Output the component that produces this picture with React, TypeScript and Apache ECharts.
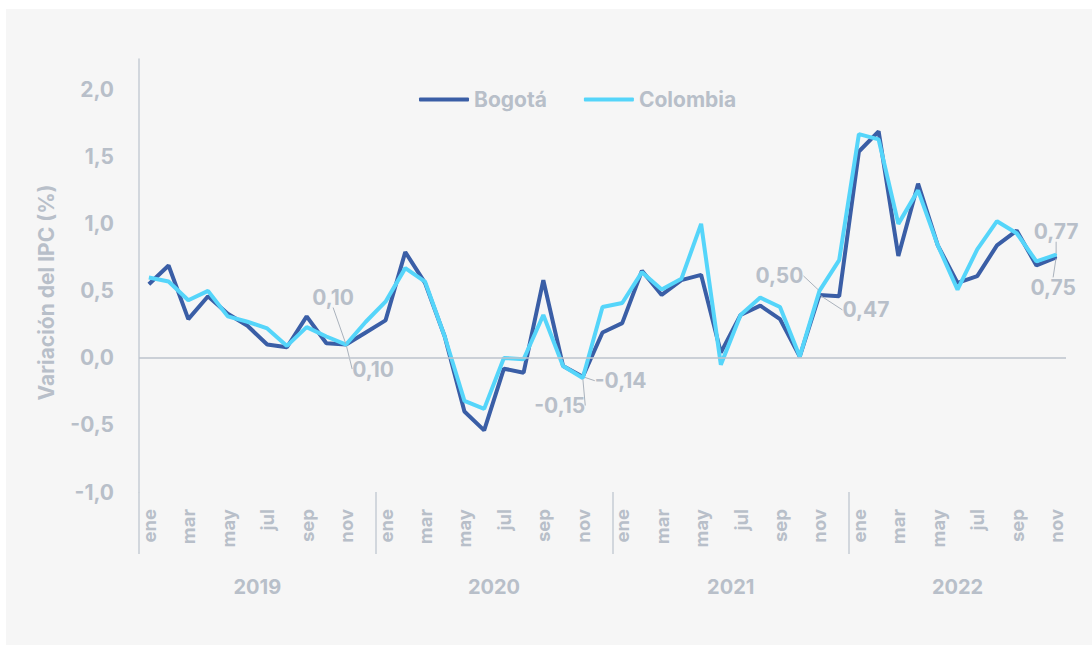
import React, { useEffect, useRef } from "react";
import * as echarts from "echarts";

const months = ["ene", "feb", "mar", "abr", "may", "jun", "jul", "ago", "sep", "oct", "nov", "dic"];
const years = ["2019", "2020", "2021", "2022"];
const categories: string[] = [];
years.forEach((y, yi) => {
  months.forEach((m, mi) => {
    if (yi === 3 && mi === 11) return;
    categories.push(m);
  });
});

const bogota = [
  0.55, 0.69, 0.29, 0.46, 0.33, 0.24, 0.1, 0.08, 0.31, 0.11, 0.1, 0.19,
  0.28, 0.79, 0.56, 0.16, -0.4, -0.54, -0.08, -0.11, 0.58, -0.06, -0.14, 0.19,
  0.26, 0.65, 0.47, 0.58, 0.62, 0.04, 0.32, 0.39, 0.29, 0.01, 0.47, 0.46,
  1.54, 1.69, 0.76, 1.3, 0.84, 0.56, 0.61, 0.84, 0.95, 0.69, 0.75,
];
const colombia = [
  0.6, 0.57, 0.43, 0.5, 0.31, 0.27, 0.22, 0.09, 0.23, 0.16, 0.1, 0.27,
  0.42, 0.67, 0.57, 0.16, -0.32, -0.38, 0.0, -0.01, 0.32, -0.06, -0.15, 0.38,
  0.41, 0.64, 0.51, 0.59, 1.0, -0.05, 0.32, 0.45, 0.38, 0.01, 0.5, 0.73,
  1.67, 1.63, 1.0, 1.25, 0.84, 0.51, 0.81, 1.02, 0.93, 0.72, 0.77,
];
const yearTickValues = [0, 12, 24, 36];
const yearLabelValues = [6, 18, 30, 41.5];

// labelled points: series index, data index, position, offsets
const labelled: { s: number; i: number; pos: string; dx: number; dy: number }[] = [
  { s: 1, i: 10, pos: "top", dx: -13, dy: -31 },
  { s: 0, i: 10, pos: "bottom", dx: 27, dy: 8 },
  { s: 1, i: 22, pos: "bottom", dx: -23, dy: 11 },
  { s: 0, i: 22, pos: "right", dx: 6, dy: 4 },
  { s: 1, i: 34, pos: "left", dx: -10, dy: -15 },
  { s: 0, i: 34, pos: "right", dx: 17, dy: 15 },
  { s: 1, i: 46, pos: "top", dx: 0, dy: -7 },
  { s: 0, i: 46, pos: "bottom", dx: -3, dy: 14 },
];

const GRAY = "#b8bfc9";
const FONT = "Inter";
const fmt = (v: number) => v.toFixed(2).replace(".", ",");

function buildData(values: number[], s: number, color: string) {
  return values.map((v, i) => {
    const l = labelled.find((x) => x.s === s && x.i === i);
    if (!l) return v;
    return {
      value: v,
      symbol: "circle",
      symbolSize: 2,
      itemStyle: { color },
      label: {
        show: true,
        position: l.pos,
        formatter: (p: any) => fmt(p.value),
        color: GRAY,
        fontSize: 21,
        fontWeight: "bold",
        fontFamily: FONT,
      },
      labelLine: { show: true, lineStyle: { color: "#aab2bc", width: 1 } },
    };
  });
}

export default function App() {
  const ref = useRef<HTMLDivElement>(null);
  useEffect(() => {
    document.body.style.margin = "0";
    const chart = echarts.init(ref.current!, undefined, { renderer: "svg" });
    const dark = "#3a5ea6";
    const light = "#55d5fa";
    chart.setOption({
      animation: false,
      backgroundColor: "#f6f6f6",
      textStyle: { fontFamily: FONT, fontWeight: "bold" },
      legend: {
        left: 408,
        top: 75,
        itemWidth: 50,
        itemHeight: 4,
        itemGap: 37,
        icon: "roundRect",
        textStyle: { color: GRAY, fontSize: 21, fontWeight: "bold", fontFamily: FONT },
        data: ["Bogotá", "Colombia"],
      },
      grid: { left: 133, right: 26, top: 50, bottom: 153 },
      xAxis: [
        {
          type: "category",
          data: categories,
          boundaryGap: true,
          position: "bottom",
          axisLine: { show: false, onZero: false },
          axisTick: { show: false },
          axisLabel: {
            interval: 1,
            rotate: 90,
            margin: 17,
            color: GRAY,
            fontSize: 18.5,
            fontWeight: "bold",
            fontFamily: FONT,
          },
        },
        {
          type: "value",
          min: 0,
          max: categories.length,
          position: "bottom",
          axisLine: { show: false, onZero: false },
          splitLine: { show: false },
          axisTick: {
            show: true,
            customValues: yearTickValues,
            length: 62,
            lineStyle: { color: "#c6ccd4", width: 1.5 },
          },
          axisLabel: {
            customValues: yearLabelValues,
            formatter: (v: number) => years[Math.floor(v / 12)],
            margin: 85,
            color: GRAY,
            fontSize: 20,
            fontWeight: "bold",
            fontFamily: FONT,
          },
        },
      ],
      yAxis: {
        type: "value",
        min: -1,
        max: 2.23,
        interval: 0.5,
        name: "Variación del IPC (%)",
        nameLocation: "middle",
        nameRotate: 90,
        nameGap: 82,
        nameTextStyle: { color: GRAY, fontSize: 21, fontWeight: "bold", fontFamily: FONT, padding: [0, 34, 0, 0] },
        axisLine: { show: true, lineStyle: { color: "#c6ccd4", width: 1.5 } },
        axisTick: { show: false },
        splitLine: { show: false },
        axisLabel: {
          showMaxLabel: false,
          margin: 25,
          color: GRAY,
          fontSize: 21,
          fontWeight: "bold",
          fontFamily: FONT,
          formatter: (v: number) => v.toFixed(1).replace(".", ","),
        },
      },
      series: [
        {
          name: "Bogotá",
          type: "line",
          xAxisIndex: 0,
          data: buildData(bogota, 0, dark),
          symbol: "none",
          showSymbol: true,
          showAllSymbol: true,
          lineStyle: { color: dark, width: 4 },
          itemStyle: { color: dark },
          markLine: {
            silent: true,
            symbol: "none",
            label: { show: false },
            lineStyle: { color: "#bcc3cc", width: 1.5, type: "solid" },
            data: [{ yAxis: 0 }],
          },
          z: 2,
        },
        {
          name: "Colombia",
          type: "line",
          xAxisIndex: 0,
          data: buildData(colombia, 1, light),
          symbol: "none",
          showSymbol: true,
          showAllSymbol: true,
          lineStyle: { color: light, width: 4 },
          itemStyle: { color: light },
          z: 3,
        },
      ],
      labelLayout: (p: any) => {
        const l = labelled.find((x) => x.s === p.seriesIndex && x.i === p.dataIndex);
        if (!l) return {};
        return { dx: l.dx, dy: l.dy };
      },
    });
    return () => chart.dispose();
  }, []);
  return (
    <div style={{ position: "relative", width: 1092, height: 645, background: "#ffffff" }}>
      <div ref={ref} style={{ position: "absolute", left: 6, top: 9, width: 1086, height: 636 }} />
    </div>
  );
}
